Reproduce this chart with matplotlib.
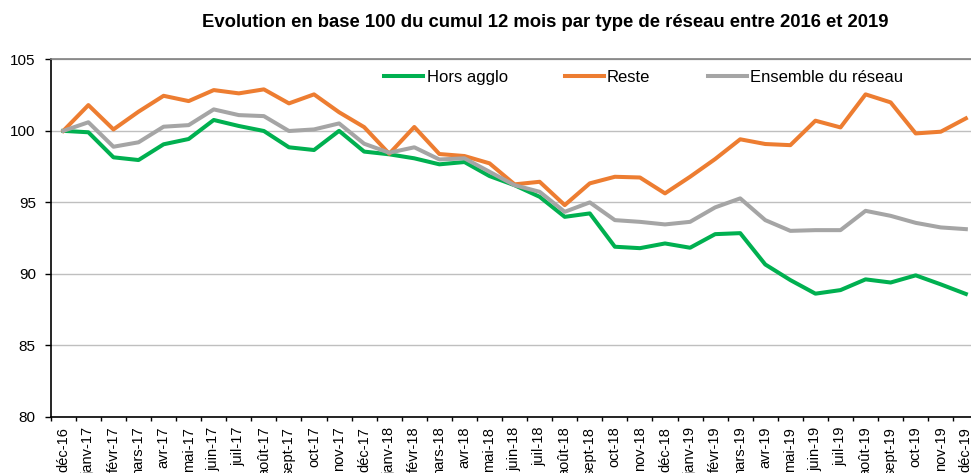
import matplotlib
matplotlib.use("Agg")
import matplotlib.pyplot as plt
from matplotlib.ticker import FixedLocator

plt.rcParams['font.family'] = ['Liberation Sans', 'DejaVu Sans']

months = ["déc-16", "janv-17", "févr-17", "mars-17", "avr-17", "mai-17", "juin-17", "juil-17",
          "août-17", "sept-17", "oct-17", "nov-17", "déc-17", "janv-18", "févr-18", "mars-18",
          "avr-18", "mai-18", "juin-18", "juil-18", "août-18", "sept-18", "oct-18", "nov-18",
          "déc-18", "janv-19", "févr-19", "mars-19", "avr-19", "mai-19", "juin-19", "juil-19",
          "août-19", "sept-19", "oct-19", "nov-19", "déc-19"]

hors_agglo = [100.0, 99.9, 98.15, 97.96, 99.06, 99.43, 100.76, 100.34, 99.99, 98.85, 98.66, 100.0,
              98.55, 98.36, 98.08, 97.66, 97.82, 96.84, 96.2, 95.39, 93.99, 94.23, 91.9, 91.8,
              92.13, 91.83, 92.78, 92.85, 90.66, 89.57, 88.62, 88.87, 89.62, 89.4, 89.9, 89.27, 88.6]
reste = [100.0, 101.8, 100.1, 101.34, 102.45, 102.08, 102.85, 102.62, 102.9, 101.92, 102.55, 101.3,
         100.26, 98.4, 100.27, 98.38, 98.24, 97.73, 96.26, 96.44, 94.81, 96.33, 96.79, 96.74,
         95.63, 96.79, 98.03, 99.41, 99.08, 99.0, 100.71, 100.24, 102.55, 101.99, 99.82, 99.94, 100.87]
ensemble = [100.0, 100.6, 98.89, 99.2, 100.29, 100.4, 101.5, 101.1, 101.03, 99.99, 100.1, 100.52,
            99.1, 98.47, 98.85, 98.0, 98.08, 97.14, 96.2, 95.74, 94.34, 95.0, 93.76, 93.64,
            93.46, 93.64, 94.65, 95.28, 93.76, 93.01, 93.06, 93.06, 94.41, 94.06, 93.57, 93.25, 93.13]

series = [("Hors agglo", hors_agglo, "#00B050"),
          ("Reste", reste, "#ED7D31"),
          ("Ensemble du réseau", ensemble, "#A5A5A5")]

fig = plt.figure(figsize=(9.71, 4.73), dpi=100)
ax = fig.add_axes([0.0523, 0.1184, 0.9553, 0.7562])

x = list(range(len(months)))
for name, vals, col in series:
    ax.plot(x, vals, color=col, lw=2.9, label=name)

ax.set_xlim(-0.5, len(months) - 0.5)
ax.set_ylim(80, 105)
ax.set_yticks([80, 85, 90, 95, 100, 105])
ax.tick_params(axis='y', labelsize=11, length=4.3, width=1, pad=6.5)
ax.yaxis.grid(True, color='#BFBFBF', lw=1)
ax.set_axisbelow(True)

ax.set_xticks(x)
ax.set_xticklabels(months, rotation=90, fontsize=10.5, va='top', ha='center')
ax.tick_params(axis='x', which='major', length=0, pad=7)
ax.xaxis.set_minor_locator(FixedLocator([i - 0.5 for i in range(len(months) + 1)]))
ax.tick_params(axis='x', which='minor', length=3, width=1)

ax.spines['right'].set_visible(False)
ax.spines['top'].set_color('#808080')
ax.spines['top'].set_linewidth(1.2)
ax.spines['left'].set_linewidth(1.2)
ax.spines['bottom'].set_linewidth(1.2)

ax.legend(loc='center left', bbox_to_anchor=(384 / 971, 1 - 77.7 / 473),
          bbox_transform=fig.transFigure, ncol=3, frameon=False,
          fontsize=12, handlelength=2.34, columnspacing=3.42, handletextpad=0.21,
          borderpad=0, borderaxespad=0)

fig.text(0.5613, 0.953, "Evolution en base 100 du cumul 12 mois par type de réseau entre 2016 et 2019",
         ha='center', va='center', fontsize=13.3, fontweight='bold')

fig.savefig("out.png", dpi=100)
